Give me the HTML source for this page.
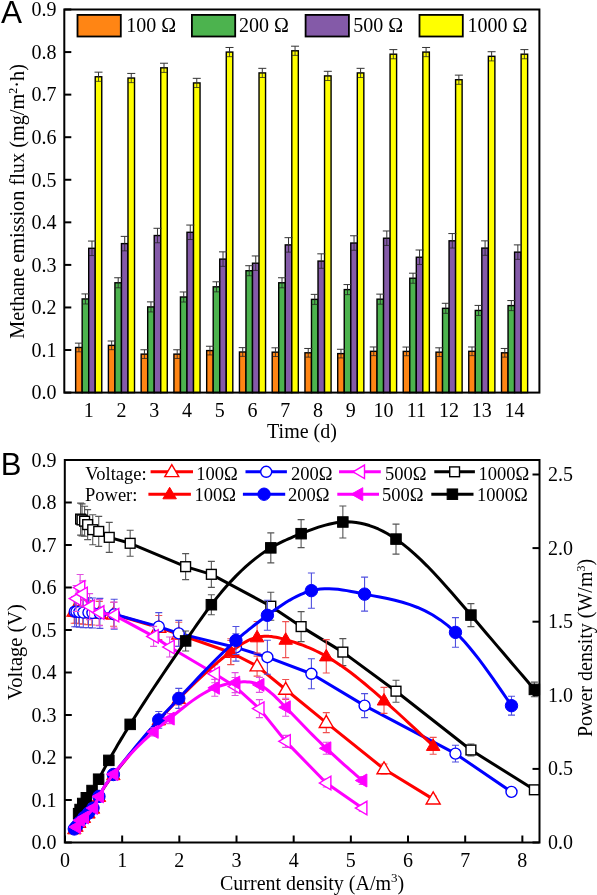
<!DOCTYPE html>
<html><head><meta charset="utf-8"><style>
html,body{margin:0;padding:0;background:#fff;width:597px;height:895px;overflow:hidden}
svg{display:block;will-change:transform}
</style></head><body>
<svg width="597" height="895" viewBox="0 0 597 895">
<rect width="597" height="895" fill="#fff"/>
<rect x="75.64" y="347.48" width="6.53" height="45.12" fill="#ff8514" stroke="#000" stroke-width="1.4"/>
<rect x="82.17" y="298.95" width="6.53" height="93.65" fill="#4cb34e" stroke="#000" stroke-width="1.4"/>
<rect x="88.70" y="248.30" width="6.53" height="144.30" fill="#845aa8" stroke="#000" stroke-width="1.4"/>
<rect x="95.23" y="76.76" width="6.53" height="315.84" fill="#ffff00" stroke="#000" stroke-width="1.4"/>
<path d="M78.91 347.48V343.14M74.91 343.14H82.91" stroke="#333" stroke-width="1" fill="none"/>
<path d="M78.91 347.48V351.82M75.91 351.82H81.91" stroke="#222" stroke-width="1" fill="none" opacity="0.75"/>
<path d="M85.44 298.95V293.93M81.44 293.93H89.44" stroke="#333" stroke-width="1" fill="none"/>
<path d="M85.44 298.95V303.98M82.44 303.98H88.44" stroke="#222" stroke-width="1" fill="none" opacity="0.75"/>
<path d="M91.97 248.30V241.06M87.97 241.06H95.97" stroke="#333" stroke-width="1" fill="none"/>
<path d="M91.97 248.30V255.54M88.97 255.54H94.97" stroke="#222" stroke-width="1" fill="none" opacity="0.75"/>
<path d="M98.50 76.76V72.16M94.50 72.16H102.50" stroke="#333" stroke-width="1" fill="none"/>
<path d="M98.50 76.76V81.35M95.50 81.35H101.50" stroke="#222" stroke-width="1" fill="none" opacity="0.75"/>
<rect x="108.40" y="345.35" width="6.53" height="47.25" fill="#ff8514" stroke="#000" stroke-width="1.4"/>
<rect x="114.93" y="282.78" width="6.53" height="109.82" fill="#4cb34e" stroke="#000" stroke-width="1.4"/>
<rect x="121.46" y="243.62" width="6.53" height="148.98" fill="#845aa8" stroke="#000" stroke-width="1.4"/>
<rect x="127.99" y="78.03" width="6.53" height="314.57" fill="#ffff00" stroke="#000" stroke-width="1.4"/>
<path d="M111.67 345.35V341.01M107.67 341.01H115.67" stroke="#333" stroke-width="1" fill="none"/>
<path d="M111.67 345.35V349.69M108.67 349.69H114.67" stroke="#222" stroke-width="1" fill="none" opacity="0.75"/>
<path d="M118.20 282.78V277.75M114.20 277.75H122.20" stroke="#333" stroke-width="1" fill="none"/>
<path d="M118.20 282.78V287.80M115.20 287.80H121.20" stroke="#222" stroke-width="1" fill="none" opacity="0.75"/>
<path d="M124.73 243.62V236.38M120.73 236.38H128.73" stroke="#333" stroke-width="1" fill="none"/>
<path d="M124.73 243.62V250.85M121.73 250.85H127.73" stroke="#222" stroke-width="1" fill="none" opacity="0.75"/>
<path d="M131.25 78.03V73.43M127.25 73.43H135.25" stroke="#333" stroke-width="1" fill="none"/>
<path d="M131.25 78.03V82.63M128.25 82.63H134.25" stroke="#222" stroke-width="1" fill="none" opacity="0.75"/>
<rect x="141.16" y="354.12" width="6.53" height="38.48" fill="#ff8514" stroke="#000" stroke-width="1.4"/>
<rect x="147.69" y="306.91" width="6.53" height="85.69" fill="#4cb34e" stroke="#000" stroke-width="1.4"/>
<rect x="154.22" y="235.53" width="6.53" height="157.07" fill="#845aa8" stroke="#000" stroke-width="1.4"/>
<rect x="160.75" y="67.82" width="6.53" height="324.78" fill="#ffff00" stroke="#000" stroke-width="1.4"/>
<path d="M144.43 354.12V349.78M140.43 349.78H148.43" stroke="#333" stroke-width="1" fill="none"/>
<path d="M144.43 354.12V358.46M141.43 358.46H147.43" stroke="#222" stroke-width="1" fill="none" opacity="0.75"/>
<path d="M150.96 306.91V301.89M146.96 301.89H154.96" stroke="#333" stroke-width="1" fill="none"/>
<path d="M150.96 306.91V311.94M147.96 311.94H153.96" stroke="#222" stroke-width="1" fill="none" opacity="0.75"/>
<path d="M157.48 235.53V228.29M153.48 228.29H161.48" stroke="#333" stroke-width="1" fill="none"/>
<path d="M157.48 235.53V242.77M154.48 242.77H160.48" stroke="#222" stroke-width="1" fill="none" opacity="0.75"/>
<path d="M164.01 67.82V63.22M160.01 63.22H168.01" stroke="#333" stroke-width="1" fill="none"/>
<path d="M164.01 67.82V72.41M161.01 72.41H167.01" stroke="#222" stroke-width="1" fill="none" opacity="0.75"/>
<rect x="173.92" y="354.12" width="6.53" height="38.48" fill="#ff8514" stroke="#000" stroke-width="1.4"/>
<rect x="180.45" y="297.00" width="6.53" height="95.60" fill="#4cb34e" stroke="#000" stroke-width="1.4"/>
<rect x="186.98" y="232.29" width="6.53" height="160.31" fill="#845aa8" stroke="#000" stroke-width="1.4"/>
<rect x="193.51" y="82.93" width="6.53" height="309.67" fill="#ffff00" stroke="#000" stroke-width="1.4"/>
<path d="M177.19 354.12V349.78M173.19 349.78H181.19" stroke="#333" stroke-width="1" fill="none"/>
<path d="M177.19 354.12V358.46M174.19 358.46H180.19" stroke="#222" stroke-width="1" fill="none" opacity="0.75"/>
<path d="M183.72 297.00V291.97M179.72 291.97H187.72" stroke="#333" stroke-width="1" fill="none"/>
<path d="M183.72 297.00V302.02M180.72 302.02H186.72" stroke="#222" stroke-width="1" fill="none" opacity="0.75"/>
<path d="M190.25 232.29V225.06M186.25 225.06H194.25" stroke="#333" stroke-width="1" fill="none"/>
<path d="M190.25 232.29V239.53M187.25 239.53H193.25" stroke="#222" stroke-width="1" fill="none" opacity="0.75"/>
<path d="M196.78 82.93V78.33M192.78 78.33H200.78" stroke="#333" stroke-width="1" fill="none"/>
<path d="M196.78 82.93V87.53M193.78 87.53H199.78" stroke="#222" stroke-width="1" fill="none" opacity="0.75"/>
<rect x="206.68" y="350.59" width="6.53" height="42.01" fill="#ff8514" stroke="#000" stroke-width="1.4"/>
<rect x="213.21" y="286.82" width="6.53" height="105.78" fill="#4cb34e" stroke="#000" stroke-width="1.4"/>
<rect x="219.74" y="259.11" width="6.53" height="133.49" fill="#845aa8" stroke="#000" stroke-width="1.4"/>
<rect x="226.27" y="52.07" width="6.53" height="340.53" fill="#ffff00" stroke="#000" stroke-width="1.4"/>
<path d="M209.95 350.59V346.24M205.95 346.24H213.95" stroke="#333" stroke-width="1" fill="none"/>
<path d="M209.95 350.59V354.93M206.95 354.93H212.95" stroke="#222" stroke-width="1" fill="none" opacity="0.75"/>
<path d="M216.48 286.82V281.80M212.48 281.80H220.48" stroke="#333" stroke-width="1" fill="none"/>
<path d="M216.48 286.82V291.85M213.48 291.85H219.48" stroke="#222" stroke-width="1" fill="none" opacity="0.75"/>
<path d="M223.00 259.11V251.87M219.00 251.87H227.00" stroke="#333" stroke-width="1" fill="none"/>
<path d="M223.00 259.11V266.35M220.00 266.35H226.00" stroke="#222" stroke-width="1" fill="none" opacity="0.75"/>
<path d="M229.53 52.07V47.47M225.53 47.47H233.53" stroke="#333" stroke-width="1" fill="none"/>
<path d="M229.53 52.07V56.66M226.53 56.66H232.53" stroke="#222" stroke-width="1" fill="none" opacity="0.75"/>
<rect x="239.44" y="351.99" width="6.53" height="40.61" fill="#ff8514" stroke="#000" stroke-width="1.4"/>
<rect x="245.97" y="270.73" width="6.53" height="121.87" fill="#4cb34e" stroke="#000" stroke-width="1.4"/>
<rect x="252.50" y="263.20" width="6.53" height="129.40" fill="#845aa8" stroke="#000" stroke-width="1.4"/>
<rect x="259.03" y="72.92" width="6.53" height="319.68" fill="#ffff00" stroke="#000" stroke-width="1.4"/>
<path d="M242.71 351.99V347.65M238.71 347.65H246.71" stroke="#333" stroke-width="1" fill="none"/>
<path d="M242.71 351.99V356.33M239.71 356.33H245.71" stroke="#222" stroke-width="1" fill="none" opacity="0.75"/>
<path d="M249.24 270.73V265.71M245.24 265.71H253.24" stroke="#333" stroke-width="1" fill="none"/>
<path d="M249.24 270.73V275.75M246.24 275.75H252.24" stroke="#222" stroke-width="1" fill="none" opacity="0.75"/>
<path d="M255.76 263.20V255.96M251.76 255.96H259.76" stroke="#333" stroke-width="1" fill="none"/>
<path d="M255.76 263.20V270.43M252.76 270.43H258.76" stroke="#222" stroke-width="1" fill="none" opacity="0.75"/>
<path d="M262.30 72.92V68.33M258.30 68.33H266.30" stroke="#333" stroke-width="1" fill="none"/>
<path d="M262.30 72.92V77.52M259.30 77.52H265.30" stroke="#222" stroke-width="1" fill="none" opacity="0.75"/>
<rect x="272.20" y="352.16" width="6.53" height="40.44" fill="#ff8514" stroke="#000" stroke-width="1.4"/>
<rect x="278.73" y="282.78" width="6.53" height="109.82" fill="#4cb34e" stroke="#000" stroke-width="1.4"/>
<rect x="285.26" y="244.89" width="6.53" height="147.71" fill="#845aa8" stroke="#000" stroke-width="1.4"/>
<rect x="291.79" y="50.79" width="6.53" height="341.81" fill="#ffff00" stroke="#000" stroke-width="1.4"/>
<path d="M275.46 352.16V347.82M271.46 347.82H279.46" stroke="#333" stroke-width="1" fill="none"/>
<path d="M275.46 352.16V356.50M272.46 356.50H278.46" stroke="#222" stroke-width="1" fill="none" opacity="0.75"/>
<path d="M282.00 282.78V277.75M278.00 277.75H286.00" stroke="#333" stroke-width="1" fill="none"/>
<path d="M282.00 282.78V287.80M279.00 287.80H285.00" stroke="#222" stroke-width="1" fill="none" opacity="0.75"/>
<path d="M288.52 244.89V237.66M284.52 237.66H292.52" stroke="#333" stroke-width="1" fill="none"/>
<path d="M288.52 244.89V252.13M285.52 252.13H291.52" stroke="#222" stroke-width="1" fill="none" opacity="0.75"/>
<path d="M295.06 50.79V46.19M291.06 46.19H299.06" stroke="#333" stroke-width="1" fill="none"/>
<path d="M295.06 50.79V55.39M292.06 55.39H298.06" stroke="#222" stroke-width="1" fill="none" opacity="0.75"/>
<rect x="304.96" y="352.80" width="6.53" height="39.80" fill="#ff8514" stroke="#000" stroke-width="1.4"/>
<rect x="311.49" y="299.38" width="6.53" height="93.22" fill="#4cb34e" stroke="#000" stroke-width="1.4"/>
<rect x="318.02" y="261.07" width="6.53" height="131.53" fill="#845aa8" stroke="#000" stroke-width="1.4"/>
<rect x="324.55" y="75.90" width="6.53" height="316.70" fill="#ffff00" stroke="#000" stroke-width="1.4"/>
<path d="M308.22 352.80V348.46M304.22 348.46H312.22" stroke="#333" stroke-width="1" fill="none"/>
<path d="M308.22 352.80V357.14M305.22 357.14H311.22" stroke="#222" stroke-width="1" fill="none" opacity="0.75"/>
<path d="M314.75 299.38V294.36M310.75 294.36H318.75" stroke="#333" stroke-width="1" fill="none"/>
<path d="M314.75 299.38V304.40M311.75 304.40H317.75" stroke="#222" stroke-width="1" fill="none" opacity="0.75"/>
<path d="M321.28 261.07V253.83M317.28 253.83H325.28" stroke="#333" stroke-width="1" fill="none"/>
<path d="M321.28 261.07V268.31M318.28 268.31H324.28" stroke="#222" stroke-width="1" fill="none" opacity="0.75"/>
<path d="M327.81 75.90V71.31M323.81 71.31H331.81" stroke="#333" stroke-width="1" fill="none"/>
<path d="M327.81 75.90V80.50M324.81 80.50H330.81" stroke="#222" stroke-width="1" fill="none" opacity="0.75"/>
<rect x="337.72" y="353.61" width="6.53" height="38.99" fill="#ff8514" stroke="#000" stroke-width="1.4"/>
<rect x="344.25" y="289.59" width="6.53" height="103.01" fill="#4cb34e" stroke="#000" stroke-width="1.4"/>
<rect x="350.78" y="243.02" width="6.53" height="149.58" fill="#845aa8" stroke="#000" stroke-width="1.4"/>
<rect x="357.31" y="72.92" width="6.53" height="319.68" fill="#ffff00" stroke="#000" stroke-width="1.4"/>
<path d="M340.98 353.61V349.27M336.98 349.27H344.98" stroke="#333" stroke-width="1" fill="none"/>
<path d="M340.98 353.61V357.95M337.98 357.95H343.98" stroke="#222" stroke-width="1" fill="none" opacity="0.75"/>
<path d="M347.51 289.59V284.57M343.51 284.57H351.51" stroke="#333" stroke-width="1" fill="none"/>
<path d="M347.51 289.59V294.61M344.51 294.61H350.51" stroke="#222" stroke-width="1" fill="none" opacity="0.75"/>
<path d="M354.04 243.02V235.78M350.04 235.78H358.04" stroke="#333" stroke-width="1" fill="none"/>
<path d="M354.04 243.02V250.26M351.04 250.26H357.04" stroke="#222" stroke-width="1" fill="none" opacity="0.75"/>
<path d="M360.57 72.92V68.33M356.57 68.33H364.57" stroke="#333" stroke-width="1" fill="none"/>
<path d="M360.57 72.92V77.52M357.57 77.52H363.57" stroke="#222" stroke-width="1" fill="none" opacity="0.75"/>
<rect x="370.48" y="351.31" width="6.53" height="41.29" fill="#ff8514" stroke="#000" stroke-width="1.4"/>
<rect x="377.01" y="299.17" width="6.53" height="93.43" fill="#4cb34e" stroke="#000" stroke-width="1.4"/>
<rect x="383.54" y="238.21" width="6.53" height="154.39" fill="#845aa8" stroke="#000" stroke-width="1.4"/>
<rect x="390.07" y="54.19" width="6.53" height="338.41" fill="#ffff00" stroke="#000" stroke-width="1.4"/>
<path d="M373.74 351.31V346.97M369.74 346.97H377.74" stroke="#333" stroke-width="1" fill="none"/>
<path d="M373.74 351.31V355.65M370.74 355.65H376.74" stroke="#222" stroke-width="1" fill="none" opacity="0.75"/>
<path d="M380.27 299.17V294.14M376.27 294.14H384.27" stroke="#333" stroke-width="1" fill="none"/>
<path d="M380.27 299.17V304.19M377.27 304.19H383.27" stroke="#222" stroke-width="1" fill="none" opacity="0.75"/>
<path d="M386.80 238.21V230.97M382.80 230.97H390.80" stroke="#333" stroke-width="1" fill="none"/>
<path d="M386.80 238.21V245.45M383.80 245.45H389.80" stroke="#222" stroke-width="1" fill="none" opacity="0.75"/>
<path d="M393.33 54.19V49.60M389.33 49.60H397.33" stroke="#333" stroke-width="1" fill="none"/>
<path d="M393.33 54.19V58.79M390.33 58.79H396.33" stroke="#222" stroke-width="1" fill="none" opacity="0.75"/>
<rect x="403.24" y="351.40" width="6.53" height="41.20" fill="#ff8514" stroke="#000" stroke-width="1.4"/>
<rect x="409.77" y="278.22" width="6.53" height="114.38" fill="#4cb34e" stroke="#000" stroke-width="1.4"/>
<rect x="416.30" y="257.24" width="6.53" height="135.36" fill="#845aa8" stroke="#000" stroke-width="1.4"/>
<rect x="422.83" y="52.07" width="6.53" height="340.53" fill="#ffff00" stroke="#000" stroke-width="1.4"/>
<path d="M406.50 351.40V347.05M402.50 347.05H410.50" stroke="#333" stroke-width="1" fill="none"/>
<path d="M406.50 351.40V355.74M403.50 355.74H409.50" stroke="#222" stroke-width="1" fill="none" opacity="0.75"/>
<path d="M413.03 278.22V273.20M409.03 273.20H417.03" stroke="#333" stroke-width="1" fill="none"/>
<path d="M413.03 278.22V283.25M410.03 283.25H416.03" stroke="#222" stroke-width="1" fill="none" opacity="0.75"/>
<path d="M419.56 257.24V250.00M415.56 250.00H423.56" stroke="#333" stroke-width="1" fill="none"/>
<path d="M419.56 257.24V264.47M416.56 264.47H422.56" stroke="#222" stroke-width="1" fill="none" opacity="0.75"/>
<path d="M426.09 52.07V47.47M422.09 47.47H430.09" stroke="#333" stroke-width="1" fill="none"/>
<path d="M426.09 52.07V56.66M423.09 56.66H429.09" stroke="#222" stroke-width="1" fill="none" opacity="0.75"/>
<rect x="436.00" y="352.16" width="6.53" height="40.44" fill="#ff8514" stroke="#000" stroke-width="1.4"/>
<rect x="442.53" y="308.32" width="6.53" height="84.28" fill="#4cb34e" stroke="#000" stroke-width="1.4"/>
<rect x="449.06" y="240.81" width="6.53" height="151.79" fill="#845aa8" stroke="#000" stroke-width="1.4"/>
<rect x="455.59" y="79.74" width="6.53" height="312.87" fill="#ffff00" stroke="#000" stroke-width="1.4"/>
<path d="M439.26 352.16V347.82M435.26 347.82H443.26" stroke="#333" stroke-width="1" fill="none"/>
<path d="M439.26 352.16V356.50M436.26 356.50H442.26" stroke="#222" stroke-width="1" fill="none" opacity="0.75"/>
<path d="M445.79 308.32V303.29M441.79 303.29H449.79" stroke="#333" stroke-width="1" fill="none"/>
<path d="M445.79 308.32V313.34M442.79 313.34H448.79" stroke="#222" stroke-width="1" fill="none" opacity="0.75"/>
<path d="M452.32 240.81V233.57M448.32 233.57H456.32" stroke="#333" stroke-width="1" fill="none"/>
<path d="M452.32 240.81V248.04M449.32 248.04H455.32" stroke="#222" stroke-width="1" fill="none" opacity="0.75"/>
<path d="M458.85 79.74V75.14M454.85 75.14H462.85" stroke="#333" stroke-width="1" fill="none"/>
<path d="M458.85 79.74V84.33M455.85 84.33H461.85" stroke="#222" stroke-width="1" fill="none" opacity="0.75"/>
<rect x="468.76" y="351.31" width="6.53" height="41.29" fill="#ff8514" stroke="#000" stroke-width="1.4"/>
<rect x="475.29" y="310.45" width="6.53" height="82.15" fill="#4cb34e" stroke="#000" stroke-width="1.4"/>
<rect x="481.82" y="248.09" width="6.53" height="144.51" fill="#845aa8" stroke="#000" stroke-width="1.4"/>
<rect x="488.35" y="56.32" width="6.53" height="336.28" fill="#ffff00" stroke="#000" stroke-width="1.4"/>
<path d="M472.02 351.31V346.97M468.02 346.97H476.02" stroke="#333" stroke-width="1" fill="none"/>
<path d="M472.02 351.31V355.65M469.02 355.65H475.02" stroke="#222" stroke-width="1" fill="none" opacity="0.75"/>
<path d="M478.56 310.45V305.42M474.56 305.42H482.56" stroke="#333" stroke-width="1" fill="none"/>
<path d="M478.56 310.45V315.47M475.56 315.47H481.56" stroke="#222" stroke-width="1" fill="none" opacity="0.75"/>
<path d="M485.08 248.09V240.85M481.08 240.85H489.08" stroke="#333" stroke-width="1" fill="none"/>
<path d="M485.08 248.09V255.32M482.08 255.32H488.08" stroke="#222" stroke-width="1" fill="none" opacity="0.75"/>
<path d="M491.62 56.32V51.73M487.62 51.73H495.62" stroke="#333" stroke-width="1" fill="none"/>
<path d="M491.62 56.32V60.92M488.62 60.92H494.62" stroke="#222" stroke-width="1" fill="none" opacity="0.75"/>
<rect x="501.52" y="352.80" width="6.53" height="39.80" fill="#ff8514" stroke="#000" stroke-width="1.4"/>
<rect x="508.05" y="305.59" width="6.53" height="87.01" fill="#4cb34e" stroke="#000" stroke-width="1.4"/>
<rect x="514.58" y="252.13" width="6.53" height="140.47" fill="#845aa8" stroke="#000" stroke-width="1.4"/>
<rect x="521.11" y="54.19" width="6.53" height="338.41" fill="#ffff00" stroke="#000" stroke-width="1.4"/>
<path d="M504.79 352.80V348.46M500.79 348.46H508.79" stroke="#333" stroke-width="1" fill="none"/>
<path d="M504.79 352.80V357.14M501.79 357.14H507.79" stroke="#222" stroke-width="1" fill="none" opacity="0.75"/>
<path d="M511.32 305.59V300.57M507.32 300.57H515.32" stroke="#333" stroke-width="1" fill="none"/>
<path d="M511.32 305.59V310.62M508.32 310.62H514.32" stroke="#222" stroke-width="1" fill="none" opacity="0.75"/>
<path d="M517.85 252.13V244.89M513.85 244.89H521.85" stroke="#333" stroke-width="1" fill="none"/>
<path d="M517.85 252.13V259.37M514.85 259.37H520.85" stroke="#222" stroke-width="1" fill="none" opacity="0.75"/>
<path d="M524.38 54.19V49.60M520.38 49.60H528.38" stroke="#333" stroke-width="1" fill="none"/>
<path d="M524.38 54.19V58.79M521.38 58.79H527.38" stroke="#222" stroke-width="1" fill="none" opacity="0.75"/>
<rect x="64.3" y="9.5" width="475.09999999999997" height="383.1" fill="none" stroke="#000" stroke-width="2"/>
<path d="M64.3 392.60H71.3" stroke="#000" stroke-width="2"/>
<text x="56.4" y="399.40" text-anchor="end" font-size="20" font-family="Liberation Serif, serif">0.0</text>
<path d="M64.3 350.03H71.3" stroke="#000" stroke-width="2"/>
<text x="56.4" y="356.83" text-anchor="end" font-size="20" font-family="Liberation Serif, serif">0.1</text>
<path d="M64.3 307.47H71.3" stroke="#000" stroke-width="2"/>
<text x="56.4" y="314.27" text-anchor="end" font-size="20" font-family="Liberation Serif, serif">0.2</text>
<path d="M64.3 264.90H71.3" stroke="#000" stroke-width="2"/>
<text x="56.4" y="271.70" text-anchor="end" font-size="20" font-family="Liberation Serif, serif">0.3</text>
<path d="M64.3 222.33H71.3" stroke="#000" stroke-width="2"/>
<text x="56.4" y="229.13" text-anchor="end" font-size="20" font-family="Liberation Serif, serif">0.4</text>
<path d="M64.3 179.77H71.3" stroke="#000" stroke-width="2"/>
<text x="56.4" y="186.57" text-anchor="end" font-size="20" font-family="Liberation Serif, serif">0.5</text>
<path d="M64.3 137.20H71.3" stroke="#000" stroke-width="2"/>
<text x="56.4" y="144.00" text-anchor="end" font-size="20" font-family="Liberation Serif, serif">0.6</text>
<path d="M64.3 94.63H71.3" stroke="#000" stroke-width="2"/>
<text x="56.4" y="101.43" text-anchor="end" font-size="20" font-family="Liberation Serif, serif">0.7</text>
<path d="M64.3 52.07H71.3" stroke="#000" stroke-width="2"/>
<text x="56.4" y="58.87" text-anchor="end" font-size="20" font-family="Liberation Serif, serif">0.8</text>
<path d="M64.3 9.50H71.3" stroke="#000" stroke-width="2"/>
<text x="56.4" y="16.30" text-anchor="end" font-size="20" font-family="Liberation Serif, serif">0.9</text>
<text x="88.70" y="416.5" text-anchor="middle" font-size="20" font-family="Liberation Serif, serif">1</text>
<text x="121.46" y="416.5" text-anchor="middle" font-size="20" font-family="Liberation Serif, serif">2</text>
<text x="154.22" y="416.5" text-anchor="middle" font-size="20" font-family="Liberation Serif, serif">3</text>
<text x="186.98" y="416.5" text-anchor="middle" font-size="20" font-family="Liberation Serif, serif">4</text>
<text x="219.74" y="416.5" text-anchor="middle" font-size="20" font-family="Liberation Serif, serif">5</text>
<text x="252.50" y="416.5" text-anchor="middle" font-size="20" font-family="Liberation Serif, serif">6</text>
<text x="285.26" y="416.5" text-anchor="middle" font-size="20" font-family="Liberation Serif, serif">7</text>
<text x="318.02" y="416.5" text-anchor="middle" font-size="20" font-family="Liberation Serif, serif">8</text>
<text x="350.78" y="416.5" text-anchor="middle" font-size="20" font-family="Liberation Serif, serif">9</text>
<text x="383.54" y="416.5" text-anchor="middle" font-size="20" font-family="Liberation Serif, serif">10</text>
<text x="416.30" y="416.5" text-anchor="middle" font-size="20" font-family="Liberation Serif, serif">11</text>
<text x="449.06" y="416.5" text-anchor="middle" font-size="20" font-family="Liberation Serif, serif">12</text>
<text x="481.82" y="416.5" text-anchor="middle" font-size="20" font-family="Liberation Serif, serif">13</text>
<text x="514.58" y="416.5" text-anchor="middle" font-size="20" font-family="Liberation Serif, serif">14</text>
<text x="302" y="437.8" text-anchor="middle" font-size="20" font-family="Liberation Serif, serif">Time (d)</text>
<text transform="translate(23.9,201.4) rotate(-90)" text-anchor="middle" font-size="20.3" font-family="Liberation Serif, serif">Methane emission flux  (mg/m<tspan font-size="12" dy="-7">2</tspan><tspan dy="7">·h)</tspan></text>
<rect x="77.5" y="14.9" width="43.3" height="21.6" fill="#ff8514" stroke="#000" stroke-width="1.8"/>
<text x="126.3" y="32.2" font-size="20" font-family="Liberation Serif, serif">100 Ω</text>
<rect x="191.9" y="14.9" width="43.3" height="21.6" fill="#4cb34e" stroke="#000" stroke-width="1.8"/>
<text x="238.9" y="32.2" font-size="20" font-family="Liberation Serif, serif">200 Ω</text>
<rect x="305.59999999999997" y="14.9" width="43.3" height="21.6" fill="#845aa8" stroke="#000" stroke-width="1.8"/>
<text x="353.3" y="32.2" font-size="20" font-family="Liberation Serif, serif">500 Ω</text>
<rect x="419.5" y="14.9" width="43.3" height="21.6" fill="#ffff00" stroke="#000" stroke-width="1.8"/>
<text x="467.5" y="32.2" font-size="20" font-family="Liberation Serif, serif">1000 Ω</text>
<text x="1" y="22.6" font-size="31.5" font-family="Liberation Sans, sans-serif">A</text>
<text x="0.8" y="475" font-size="31" font-family="Liberation Sans, sans-serif">B</text>
<path d="M74.15 611.30 L75.86 611.30 L78.72 611.73 L82.72 612.15 L87.87 612.58 L91.87 613.00 L99.30 613.42 L113.59 614.27 L158.76 627.45 L178.77 634.25 L230.79 652.52 L257.09 666.12 L285.68 689.50 L326.27 722.65 L384.01 768.98 L433.17 799.15" fill="none" stroke="#ff0000" stroke-width="3" stroke-linejoin="round"/>
<path d="M74.15 599.30V623.30M70.65 599.30H77.65M70.65 623.30H77.65" stroke="#f05050" stroke-width="1.1" fill="none"/>
<path d="M75.86 599.30V623.30M72.36 599.30H79.36M72.36 623.30H79.36" stroke="#f05050" stroke-width="1.1" fill="none"/>
<path d="M78.72 599.73V623.73M75.22 599.73H82.22M75.22 623.73H82.22" stroke="#f05050" stroke-width="1.1" fill="none"/>
<path d="M82.72 600.15V624.15M79.22 600.15H86.22M79.22 624.15H86.22" stroke="#f05050" stroke-width="1.1" fill="none"/>
<path d="M87.87 600.58V624.58M84.37 600.58H91.37M84.37 624.58H91.37" stroke="#f05050" stroke-width="1.1" fill="none"/>
<path d="M91.87 601.00V625.00M88.37 601.00H95.37M88.37 625.00H95.37" stroke="#f05050" stroke-width="1.1" fill="none"/>
<path d="M99.30 601.42V625.42M95.80 601.42H102.80M95.80 625.42H102.80" stroke="#f05050" stroke-width="1.1" fill="none"/>
<path d="M113.59 602.27V626.27M110.09 602.27H117.09M110.09 626.27H117.09" stroke="#f05050" stroke-width="1.1" fill="none"/>
<path d="M158.76 615.45V639.45M155.26 615.45H162.26M155.26 639.45H162.26" stroke="#f05050" stroke-width="1.1" fill="none"/>
<path d="M178.77 622.25V646.25M175.27 622.25H182.27M175.27 646.25H182.27" stroke="#f05050" stroke-width="1.1" fill="none"/>
<path d="M230.79 640.52V664.52M227.29 640.52H234.29M227.29 664.52H234.29" stroke="#f05050" stroke-width="1.1" fill="none"/>
<path d="M257.09 656.12V676.12M253.59 656.12H260.59M253.59 676.12H260.59" stroke="#f05050" stroke-width="1.1" fill="none"/>
<path d="M285.68 679.50V699.50M282.18 679.50H289.18M282.18 699.50H289.18" stroke="#f05050" stroke-width="1.1" fill="none"/>
<path d="M326.27 712.65V732.65M322.77 712.65H329.77M322.77 732.65H329.77" stroke="#f05050" stroke-width="1.1" fill="none"/>
<path d="M384.01 763.98V773.98M380.51 763.98H387.51M380.51 773.98H387.51" stroke="#f05050" stroke-width="1.1" fill="none"/>
<path d="M433.17 796.15V802.15M429.67 796.15H436.67M429.67 802.15H436.67" stroke="#f05050" stroke-width="1.1" fill="none"/>
<path d="M74.15 604.10L81.15 616.10L67.15 616.10Z" fill="#fff" stroke="#ff0000" stroke-width="1.4" stroke-linejoin="miter"/>
<path d="M75.86 604.10L82.86 616.10L68.86 616.10Z" fill="#fff" stroke="#ff0000" stroke-width="1.4" stroke-linejoin="miter"/>
<path d="M78.72 604.52L85.72 616.52L71.72 616.52Z" fill="#fff" stroke="#ff0000" stroke-width="1.4" stroke-linejoin="miter"/>
<path d="M82.72 604.95L89.72 616.95L75.72 616.95Z" fill="#fff" stroke="#ff0000" stroke-width="1.4" stroke-linejoin="miter"/>
<path d="M87.87 605.38L94.87 617.38L80.87 617.38Z" fill="#fff" stroke="#ff0000" stroke-width="1.4" stroke-linejoin="miter"/>
<path d="M91.87 605.80L98.87 617.80L84.87 617.80Z" fill="#fff" stroke="#ff0000" stroke-width="1.4" stroke-linejoin="miter"/>
<path d="M99.30 606.22L106.30 618.22L92.30 618.22Z" fill="#fff" stroke="#ff0000" stroke-width="1.4" stroke-linejoin="miter"/>
<path d="M113.59 607.07L120.59 619.07L106.59 619.07Z" fill="#fff" stroke="#ff0000" stroke-width="1.4" stroke-linejoin="miter"/>
<path d="M158.76 620.25L165.76 632.25L151.76 632.25Z" fill="#fff" stroke="#ff0000" stroke-width="1.4" stroke-linejoin="miter"/>
<path d="M178.77 627.05L185.77 639.05L171.77 639.05Z" fill="#fff" stroke="#ff0000" stroke-width="1.4" stroke-linejoin="miter"/>
<path d="M230.79 645.32L237.79 657.32L223.79 657.32Z" fill="#fff" stroke="#ff0000" stroke-width="1.4" stroke-linejoin="miter"/>
<path d="M257.09 658.92L264.09 670.92L250.09 670.92Z" fill="#fff" stroke="#ff0000" stroke-width="1.4" stroke-linejoin="miter"/>
<path d="M285.68 682.30L292.68 694.30L278.68 694.30Z" fill="#fff" stroke="#ff0000" stroke-width="1.4" stroke-linejoin="miter"/>
<path d="M326.27 715.45L333.27 727.45L319.27 727.45Z" fill="#fff" stroke="#ff0000" stroke-width="1.4" stroke-linejoin="miter"/>
<path d="M384.01 761.77L391.01 773.77L377.01 773.77Z" fill="#fff" stroke="#ff0000" stroke-width="1.4" stroke-linejoin="miter"/>
<path d="M433.17 791.95L440.17 803.95L426.17 803.95Z" fill="#fff" stroke="#ff0000" stroke-width="1.4" stroke-linejoin="miter"/>
<path d="M74.72 611.73 L76.43 611.73 L79.29 612.15 L83.29 612.58 L88.44 612.58 L92.44 613.00 L99.87 613.42 L114.17 614.27 L158.76 626.60 L178.77 633.40 L235.94 647.42 L267.38 657.20 L311.40 673.77 L364.57 705.65 L455.47 753.67 L511.50 791.92" fill="none" stroke="#0000ff" stroke-width="3" stroke-linejoin="round"/>
<path d="M74.72 596.73V626.73M71.22 596.73H78.22M71.22 626.73H78.22" stroke="#5050e0" stroke-width="1.1" fill="none"/>
<path d="M76.43 596.73V626.73M72.93 596.73H79.93M72.93 626.73H79.93" stroke="#5050e0" stroke-width="1.1" fill="none"/>
<path d="M79.29 597.15V627.15M75.79 597.15H82.79M75.79 627.15H82.79" stroke="#5050e0" stroke-width="1.1" fill="none"/>
<path d="M83.29 597.58V627.58M79.79 597.58H86.79M79.79 627.58H86.79" stroke="#5050e0" stroke-width="1.1" fill="none"/>
<path d="M88.44 597.58V627.58M84.94 597.58H91.94M84.94 627.58H91.94" stroke="#5050e0" stroke-width="1.1" fill="none"/>
<path d="M92.44 598.00V628.00M88.94 598.00H95.94M88.94 628.00H95.94" stroke="#5050e0" stroke-width="1.1" fill="none"/>
<path d="M99.87 598.42V628.42M96.37 598.42H103.37M96.37 628.42H103.37" stroke="#5050e0" stroke-width="1.1" fill="none"/>
<path d="M114.17 599.27V629.27M110.67 599.27H117.67M110.67 629.27H117.67" stroke="#5050e0" stroke-width="1.1" fill="none"/>
<path d="M158.76 612.60V640.60M155.26 612.60H162.26M155.26 640.60H162.26" stroke="#5050e0" stroke-width="1.1" fill="none"/>
<path d="M178.77 620.40V646.40M175.27 620.40H182.27M175.27 646.40H182.27" stroke="#5050e0" stroke-width="1.1" fill="none"/>
<path d="M235.94 633.72V661.12M232.44 633.72H239.44M232.44 661.12H239.44" stroke="#5050e0" stroke-width="1.1" fill="none"/>
<path d="M267.38 640.20V674.20M263.88 640.20H270.88M263.88 674.20H270.88" stroke="#5050e0" stroke-width="1.1" fill="none"/>
<path d="M311.40 658.77V688.77M307.90 658.77H314.90M307.90 688.77H314.90" stroke="#5050e0" stroke-width="1.1" fill="none"/>
<path d="M364.57 693.65V717.65M361.07 693.65H368.07M361.07 717.65H368.07" stroke="#5050e0" stroke-width="1.1" fill="none"/>
<path d="M455.47 745.27V762.07M451.97 745.27H458.97M451.97 762.07H458.97" stroke="#5050e0" stroke-width="1.1" fill="none"/>
<path d="M511.50 787.92V795.92M508.00 787.92H515.00M508.00 795.92H515.00" stroke="#5050e0" stroke-width="1.1" fill="none"/>
<circle cx="74.72" cy="611.73" r="5.5" fill="#fff" stroke="#0000ff" stroke-width="1.4"/>
<circle cx="76.43" cy="611.73" r="5.5" fill="#fff" stroke="#0000ff" stroke-width="1.4"/>
<circle cx="79.29" cy="612.15" r="5.5" fill="#fff" stroke="#0000ff" stroke-width="1.4"/>
<circle cx="83.29" cy="612.58" r="5.5" fill="#fff" stroke="#0000ff" stroke-width="1.4"/>
<circle cx="88.44" cy="612.58" r="5.5" fill="#fff" stroke="#0000ff" stroke-width="1.4"/>
<circle cx="92.44" cy="613.00" r="5.5" fill="#fff" stroke="#0000ff" stroke-width="1.4"/>
<circle cx="99.87" cy="613.42" r="5.5" fill="#fff" stroke="#0000ff" stroke-width="1.4"/>
<circle cx="114.17" cy="614.27" r="5.5" fill="#fff" stroke="#0000ff" stroke-width="1.4"/>
<circle cx="158.76" cy="626.60" r="5.5" fill="#fff" stroke="#0000ff" stroke-width="1.4"/>
<circle cx="178.77" cy="633.40" r="5.5" fill="#fff" stroke="#0000ff" stroke-width="1.4"/>
<circle cx="235.94" cy="647.42" r="5.5" fill="#fff" stroke="#0000ff" stroke-width="1.4"/>
<circle cx="267.38" cy="657.20" r="5.5" fill="#fff" stroke="#0000ff" stroke-width="1.4"/>
<circle cx="311.40" cy="673.77" r="5.5" fill="#fff" stroke="#0000ff" stroke-width="1.4"/>
<circle cx="364.57" cy="705.65" r="5.5" fill="#fff" stroke="#0000ff" stroke-width="1.4"/>
<circle cx="455.47" cy="753.67" r="5.5" fill="#fff" stroke="#0000ff" stroke-width="1.4"/>
<circle cx="511.50" cy="791.92" r="5.5" fill="#fff" stroke="#0000ff" stroke-width="1.4"/>
<path d="M76.09 598.55 L80.15 587.50 L82.72 593.88 L89.58 606.62 L99.30 612.58 L114.17 615.12 L153.61 636.38 L169.62 647.00 L214.79 673.77 L235.08 686.52 L259.38 708.62 L285.68 741.35 L326.27 783.00 L362.28 808.08" fill="none" stroke="#ff00ff" stroke-width="3" stroke-linejoin="round"/>
<path d="M76.09 585.55V611.55M72.59 585.55H79.59M72.59 611.55H79.59" stroke="#e050e0" stroke-width="1.1" fill="none"/>
<path d="M80.15 574.50V600.50M76.65 574.50H83.65M76.65 600.50H83.65" stroke="#e050e0" stroke-width="1.1" fill="none"/>
<path d="M82.72 580.88V606.88M79.22 580.88H86.22M79.22 606.88H86.22" stroke="#e050e0" stroke-width="1.1" fill="none"/>
<path d="M89.58 593.62V619.62M86.08 593.62H93.08M86.08 619.62H93.08" stroke="#e050e0" stroke-width="1.1" fill="none"/>
<path d="M99.30 599.58V625.58M95.80 599.58H102.80M95.80 625.58H102.80" stroke="#e050e0" stroke-width="1.1" fill="none"/>
<path d="M114.17 602.12V628.12M110.67 602.12H117.67M110.67 628.12H117.67" stroke="#e050e0" stroke-width="1.1" fill="none"/>
<path d="M153.61 626.38V646.38M150.11 626.38H157.11M150.11 646.38H157.11" stroke="#e050e0" stroke-width="1.1" fill="none"/>
<path d="M169.62 637.00V657.00M166.12 637.00H173.12M166.12 657.00H173.12" stroke="#e050e0" stroke-width="1.1" fill="none"/>
<path d="M214.79 664.77V682.77M211.29 664.77H218.29M211.29 682.77H218.29" stroke="#e050e0" stroke-width="1.1" fill="none"/>
<path d="M235.08 677.52V695.52M231.58 677.52H238.58M231.58 695.52H238.58" stroke="#e050e0" stroke-width="1.1" fill="none"/>
<path d="M259.38 699.62V717.62M255.88 699.62H262.88M255.88 717.62H262.88" stroke="#e050e0" stroke-width="1.1" fill="none"/>
<path d="M285.68 735.35V747.35M282.18 735.35H289.18M282.18 747.35H289.18" stroke="#e050e0" stroke-width="1.1" fill="none"/>
<path d="M326.27 779.00V787.00M322.77 779.00H329.77M322.77 787.00H329.77" stroke="#e050e0" stroke-width="1.1" fill="none"/>
<path d="M362.28 805.08V811.08M358.78 805.08H365.78M358.78 811.08H365.78" stroke="#e050e0" stroke-width="1.1" fill="none"/>
<path d="M69.19 598.55L80.69 591.80L80.69 605.30Z" fill="#fff" stroke="#ff00ff" stroke-width="1.4"/>
<path d="M73.25 587.50L84.75 580.75L84.75 594.25Z" fill="#fff" stroke="#ff00ff" stroke-width="1.4"/>
<path d="M75.82 593.88L87.32 587.12L87.32 600.62Z" fill="#fff" stroke="#ff00ff" stroke-width="1.4"/>
<path d="M82.68 606.62L94.18 599.88L94.18 613.38Z" fill="#fff" stroke="#ff00ff" stroke-width="1.4"/>
<path d="M92.40 612.58L103.90 605.83L103.90 619.33Z" fill="#fff" stroke="#ff00ff" stroke-width="1.4"/>
<path d="M107.27 615.12L118.77 608.38L118.77 621.88Z" fill="#fff" stroke="#ff00ff" stroke-width="1.4"/>
<path d="M146.71 636.38L158.21 629.62L158.21 643.12Z" fill="#fff" stroke="#ff00ff" stroke-width="1.4"/>
<path d="M162.72 647.00L174.22 640.25L174.22 653.75Z" fill="#fff" stroke="#ff00ff" stroke-width="1.4"/>
<path d="M207.89 673.77L219.39 667.02L219.39 680.52Z" fill="#fff" stroke="#ff00ff" stroke-width="1.4"/>
<path d="M228.18 686.52L239.68 679.77L239.68 693.27Z" fill="#fff" stroke="#ff00ff" stroke-width="1.4"/>
<path d="M252.48 708.62L263.98 701.88L263.98 715.38Z" fill="#fff" stroke="#ff00ff" stroke-width="1.4"/>
<path d="M278.78 741.35L290.28 734.60L290.28 748.10Z" fill="#fff" stroke="#ff00ff" stroke-width="1.4"/>
<path d="M319.37 783.00L330.87 776.25L330.87 789.75Z" fill="#fff" stroke="#ff00ff" stroke-width="1.4"/>
<path d="M355.38 808.08L366.88 801.33L366.88 814.83Z" fill="#fff" stroke="#ff00ff" stroke-width="1.4"/>
<path d="M80.61 519.08 L82.04 519.92 L84.61 521.20 L87.64 524.60 L92.73 529.70 L98.73 531.40 L109.25 537.35 L130.17 543.30 L185.63 566.67 L211.36 574.33 L270.81 606.20 L301.11 626.60 L342.85 652.10 L396.01 691.20 L470.91 750.02 L534.37 789.80" fill="none" stroke="#000000" stroke-width="3" stroke-linejoin="round"/>
<path d="M80.61 503.08V535.08M77.11 503.08H84.11M77.11 535.08H84.11" stroke="#555555" stroke-width="1.1" fill="none"/>
<path d="M82.04 503.92V535.92M78.54 503.92H85.54M78.54 535.92H85.54" stroke="#555555" stroke-width="1.1" fill="none"/>
<path d="M84.61 506.20V536.20M81.11 506.20H88.11M81.11 536.20H88.11" stroke="#555555" stroke-width="1.1" fill="none"/>
<path d="M87.64 509.60V539.60M84.14 509.60H91.14M84.14 539.60H91.14" stroke="#555555" stroke-width="1.1" fill="none"/>
<path d="M92.73 514.70V544.70M89.23 514.70H96.23M89.23 544.70H96.23" stroke="#555555" stroke-width="1.1" fill="none"/>
<path d="M98.73 516.40V546.40M95.23 516.40H102.23M95.23 546.40H102.23" stroke="#555555" stroke-width="1.1" fill="none"/>
<path d="M109.25 522.35V552.35M105.75 522.35H112.75M105.75 552.35H112.75" stroke="#555555" stroke-width="1.1" fill="none"/>
<path d="M130.17 530.30V556.30M126.67 530.30H133.67M126.67 556.30H133.67" stroke="#555555" stroke-width="1.1" fill="none"/>
<path d="M185.63 553.67V579.67M182.13 553.67H189.13M182.13 579.67H189.13" stroke="#555555" stroke-width="1.1" fill="none"/>
<path d="M211.36 561.33V587.33M207.86 561.33H214.86M207.86 587.33H214.86" stroke="#555555" stroke-width="1.1" fill="none"/>
<path d="M270.81 592.20V620.20M267.31 592.20H274.31M267.31 620.20H274.31" stroke="#555555" stroke-width="1.1" fill="none"/>
<path d="M301.11 611.60V641.60M297.61 611.60H304.61M297.61 641.60H304.61" stroke="#555555" stroke-width="1.1" fill="none"/>
<path d="M342.85 638.60V665.60M339.35 638.60H346.35M339.35 665.60H346.35" stroke="#555555" stroke-width="1.1" fill="none"/>
<path d="M396.01 680.20V702.20M392.51 680.20H399.51M392.51 702.20H399.51" stroke="#555555" stroke-width="1.1" fill="none"/>
<path d="M470.91 744.02V756.02M467.41 744.02H474.41M467.41 756.02H474.41" stroke="#555555" stroke-width="1.1" fill="none"/>
<path d="M534.37 785.80V793.80M530.87 785.80H537.87M530.87 793.80H537.87" stroke="#555555" stroke-width="1.1" fill="none"/>
<rect x="75.71" y="514.18" width="9.8" height="9.8" fill="#fff" stroke="#000000" stroke-width="1.4"/>
<rect x="77.14" y="515.02" width="9.8" height="9.8" fill="#fff" stroke="#000000" stroke-width="1.4"/>
<rect x="79.71" y="516.30" width="9.8" height="9.8" fill="#fff" stroke="#000000" stroke-width="1.4"/>
<rect x="82.74" y="519.70" width="9.8" height="9.8" fill="#fff" stroke="#000000" stroke-width="1.4"/>
<rect x="87.83" y="524.80" width="9.8" height="9.8" fill="#fff" stroke="#000000" stroke-width="1.4"/>
<rect x="93.83" y="526.50" width="9.8" height="9.8" fill="#fff" stroke="#000000" stroke-width="1.4"/>
<rect x="104.35" y="532.45" width="9.8" height="9.8" fill="#fff" stroke="#000000" stroke-width="1.4"/>
<rect x="125.27" y="538.40" width="9.8" height="9.8" fill="#fff" stroke="#000000" stroke-width="1.4"/>
<rect x="180.73" y="561.77" width="9.8" height="9.8" fill="#fff" stroke="#000000" stroke-width="1.4"/>
<rect x="206.46" y="569.43" width="9.8" height="9.8" fill="#fff" stroke="#000000" stroke-width="1.4"/>
<rect x="265.91" y="601.30" width="9.8" height="9.8" fill="#fff" stroke="#000000" stroke-width="1.4"/>
<rect x="296.21" y="621.70" width="9.8" height="9.8" fill="#fff" stroke="#000000" stroke-width="1.4"/>
<rect x="337.95" y="647.20" width="9.8" height="9.8" fill="#fff" stroke="#000000" stroke-width="1.4"/>
<rect x="391.11" y="686.30" width="9.8" height="9.8" fill="#fff" stroke="#000000" stroke-width="1.4"/>
<rect x="466.01" y="745.12" width="9.8" height="9.8" fill="#fff" stroke="#000000" stroke-width="1.4"/>
<rect x="529.47" y="784.90" width="9.8" height="9.8" fill="#fff" stroke="#000000" stroke-width="1.4"/>
<path d="M78.61 813.65 L78.73 813.30 L78.85 812.95 L78.98 812.60 L79.10 812.25 L79.23 811.90 L79.35 811.55 L79.47 811.21 L79.60 810.86 L79.72 810.53 L79.85 810.19 L79.97 809.86 L80.09 809.53 L80.31 808.96 L80.53 808.40 L80.75 807.85 L80.97 807.32 L81.19 806.79 L81.41 806.28 L81.63 805.79 L81.85 805.30 L82.07 804.83 L82.28 804.37 L82.50 803.93 L82.72 803.49 L83.02 802.92 L83.32 802.36 L83.62 801.83 L83.92 801.31 L84.22 800.82 L84.52 800.34 L84.82 799.87 L85.12 799.42 L85.42 798.99 L85.72 798.56 L86.02 798.15 L86.32 797.75 L86.80 797.13 L87.28 796.53 L87.75 795.94 L88.23 795.37 L88.71 794.79 L89.18 794.22 L89.66 793.64 L90.14 793.06 L90.61 792.46 L91.09 791.84 L91.56 791.20 L92.04 790.54 L92.59 789.74 L93.14 788.90 L93.69 788.02 L94.23 787.12 L94.78 786.19 L95.33 785.23 L95.88 784.26 L96.42 783.27 L96.97 782.26 L97.52 781.25 L98.07 780.23 L98.62 779.20 L99.47 777.61 L100.32 776.02 L101.17 774.43 L102.03 772.85 L102.88 771.27 L103.73 769.69 L104.59 768.12 L105.44 766.55 L106.29 764.99 L107.14 763.44 L108.00 761.90 L108.85 760.36 L110.63 757.19 L112.40 754.06 L114.18 750.96 L115.96 747.89 L117.73 744.86 L119.51 741.86 L121.29 738.88 L123.07 735.93 L124.84 733.01 L126.62 730.11 L128.40 727.22 L130.17 724.36 L134.80 717.00 L139.42 709.75 L144.04 702.59 L148.66 695.53 L153.28 688.53 L157.90 681.61 L162.52 674.75 L167.14 667.93 L171.76 661.15 L176.39 654.39 L181.01 647.66 L185.63 640.93 L187.77 637.80 L189.92 634.69 L192.06 631.58 L194.20 628.48 L196.35 625.40 L198.49 622.35 L200.64 619.32 L202.78 616.32 L204.92 613.35 L207.07 610.43 L209.21 607.55 L211.36 604.72 L216.31 598.38 L221.26 592.33 L226.22 586.56 L231.17 581.09 L236.13 575.90 L241.08 571.01 L246.04 566.41 L250.99 562.10 L255.95 558.10 L260.90 554.39 L265.86 550.97 L270.81 547.86 L273.34 546.39 L275.86 545.00 L278.39 543.67 L280.91 542.39 L283.44 541.18 L285.96 540.01 L288.49 538.88 L291.01 537.79 L293.54 536.73 L296.06 535.69 L298.59 534.68 L301.11 533.67 L304.59 532.29 L308.07 530.95 L311.55 529.64 L315.02 528.38 L318.50 527.20 L321.98 526.09 L325.46 525.09 L328.93 524.19 L332.41 523.42 L335.89 522.79 L339.37 522.31 L342.85 522.00 L347.28 521.87 L351.71 522.03 L356.14 522.49 L360.57 523.23 L365.00 524.25 L369.43 525.55 L373.86 527.13 L378.29 528.99 L382.72 531.11 L387.15 533.51 L391.58 536.17 L396.01 539.09 L402.26 543.63 L408.50 548.64 L414.74 554.08 L420.98 559.91 L427.22 566.07 L433.46 572.53 L439.70 579.24 L445.94 586.16 L452.18 593.25 L458.42 600.46 L464.67 607.75 L470.91 615.08 L476.20 621.29 L481.48 627.50 L486.77 633.70 L492.06 639.90 L497.35 646.10 L502.64 652.29 L507.92 658.48 L513.21 664.67 L518.50 670.86 L523.79 677.04 L529.08 683.23 L534.37 689.41" fill="none" stroke="#000000" stroke-width="3" stroke-linejoin="round"/>
<path d="M78.61 811.65V815.65M75.11 811.65H82.11M75.11 815.65H82.11" stroke="#555555" stroke-width="1.1" fill="none"/>
<path d="M80.09 807.53V811.53M76.59 807.53H83.59M76.59 811.53H83.59" stroke="#555555" stroke-width="1.1" fill="none"/>
<path d="M82.72 801.49V805.49M79.22 801.49H86.22M79.22 805.49H86.22" stroke="#555555" stroke-width="1.1" fill="none"/>
<path d="M86.32 795.75V799.75M82.82 795.75H89.82M82.82 799.75H89.82" stroke="#555555" stroke-width="1.1" fill="none"/>
<path d="M92.04 788.54V792.54M88.54 788.54H95.54M88.54 792.54H95.54" stroke="#555555" stroke-width="1.1" fill="none"/>
<path d="M98.62 777.20V781.20M95.12 777.20H102.12M95.12 781.20H102.12" stroke="#555555" stroke-width="1.1" fill="none"/>
<path d="M108.85 758.36V762.36M105.35 758.36H112.35M105.35 762.36H112.35" stroke="#555555" stroke-width="1.1" fill="none"/>
<path d="M130.17 720.36V728.36M126.67 720.36H133.67M126.67 728.36H133.67" stroke="#555555" stroke-width="1.1" fill="none"/>
<path d="M185.63 630.93V650.93M182.13 630.93H189.13M182.13 650.93H189.13" stroke="#555555" stroke-width="1.1" fill="none"/>
<path d="M211.36 594.72V614.72M207.86 594.72H214.86M207.86 614.72H214.86" stroke="#555555" stroke-width="1.1" fill="none"/>
<path d="M270.81 532.86V562.86M267.31 532.86H274.31M267.31 562.86H274.31" stroke="#555555" stroke-width="1.1" fill="none"/>
<path d="M301.11 519.67V547.67M297.61 519.67H304.61M297.61 547.67H304.61" stroke="#555555" stroke-width="1.1" fill="none"/>
<path d="M342.85 506.00V538.00M339.35 506.00H346.35M339.35 538.00H346.35" stroke="#555555" stroke-width="1.1" fill="none"/>
<path d="M396.01 524.09V554.09M392.51 524.09H399.51M392.51 554.09H399.51" stroke="#555555" stroke-width="1.1" fill="none"/>
<path d="M470.91 603.58V626.58M467.41 603.58H474.41M467.41 626.58H474.41" stroke="#555555" stroke-width="1.1" fill="none"/>
<path d="M534.37 682.11V696.71M530.87 682.11H537.87M530.87 696.71H537.87" stroke="#555555" stroke-width="1.1" fill="none"/>
<rect x="73.36" y="808.40" width="10.5" height="10.5" fill="#000000" stroke="#000000" stroke-width="1.0"/>
<rect x="74.84" y="804.28" width="10.5" height="10.5" fill="#000000" stroke="#000000" stroke-width="1.0"/>
<rect x="77.47" y="798.24" width="10.5" height="10.5" fill="#000000" stroke="#000000" stroke-width="1.0"/>
<rect x="81.07" y="792.50" width="10.5" height="10.5" fill="#000000" stroke="#000000" stroke-width="1.0"/>
<rect x="86.79" y="785.29" width="10.5" height="10.5" fill="#000000" stroke="#000000" stroke-width="1.0"/>
<rect x="93.37" y="773.95" width="10.5" height="10.5" fill="#000000" stroke="#000000" stroke-width="1.0"/>
<rect x="103.60" y="755.11" width="10.5" height="10.5" fill="#000000" stroke="#000000" stroke-width="1.0"/>
<rect x="124.92" y="719.11" width="10.5" height="10.5" fill="#000000" stroke="#000000" stroke-width="1.0"/>
<rect x="180.38" y="635.68" width="10.5" height="10.5" fill="#000000" stroke="#000000" stroke-width="1.0"/>
<rect x="206.11" y="599.47" width="10.5" height="10.5" fill="#000000" stroke="#000000" stroke-width="1.0"/>
<rect x="265.56" y="542.61" width="10.5" height="10.5" fill="#000000" stroke="#000000" stroke-width="1.0"/>
<rect x="295.86" y="528.42" width="10.5" height="10.5" fill="#000000" stroke="#000000" stroke-width="1.0"/>
<rect x="337.60" y="516.75" width="10.5" height="10.5" fill="#000000" stroke="#000000" stroke-width="1.0"/>
<rect x="390.76" y="533.84" width="10.5" height="10.5" fill="#000000" stroke="#000000" stroke-width="1.0"/>
<rect x="465.66" y="609.83" width="10.5" height="10.5" fill="#000000" stroke="#000000" stroke-width="1.0"/>
<rect x="529.12" y="684.16" width="10.5" height="10.5" fill="#000000" stroke="#000000" stroke-width="1.0"/>
<path d="M74.32 829.25 L74.49 829.05 L74.67 828.85 L74.85 828.65 L75.02 828.45 L75.20 828.24 L75.38 828.04 L75.55 827.83 L75.73 827.62 L75.91 827.41 L76.08 827.19 L76.26 826.97 L76.43 826.75 L76.67 826.44 L76.91 826.13 L77.15 825.81 L77.39 825.49 L77.63 825.16 L77.86 824.84 L78.10 824.51 L78.34 824.19 L78.58 823.87 L78.82 823.55 L79.05 823.23 L79.29 822.92 L79.67 822.44 L80.05 821.98 L80.44 821.53 L80.82 821.09 L81.20 820.67 L81.58 820.26 L81.96 819.85 L82.34 819.46 L82.72 819.07 L83.10 818.68 L83.48 818.30 L83.87 817.92 L84.25 817.54 L84.63 817.16 L85.01 816.78 L85.39 816.40 L85.77 816.02 L86.15 815.65 L86.53 815.28 L86.92 814.92 L87.30 814.55 L87.68 814.20 L88.06 813.85 L88.44 813.50 L88.82 813.16 L89.20 812.82 L89.58 812.48 L89.96 812.14 L90.35 811.78 L90.73 811.41 L91.11 811.02 L91.49 810.61 L91.87 810.17 L92.25 809.70 L92.63 809.19 L93.01 808.64 L93.51 807.87 L94.00 807.03 L94.50 806.13 L95.00 805.18 L95.49 804.20 L95.99 803.18 L96.48 802.13 L96.98 801.08 L97.47 800.01 L97.97 798.95 L98.46 797.90 L98.96 796.87 L100.16 794.48 L101.36 792.24 L102.56 790.14 L103.76 788.16 L104.96 786.29 L106.16 784.51 L107.36 782.81 L108.56 781.19 L109.76 779.61 L110.96 778.08 L112.17 776.58 L113.37 775.08 L117.15 770.38 L120.93 765.68 L124.71 760.98 L128.50 756.30 L132.28 751.64 L136.06 747.02 L139.85 742.43 L143.63 737.89 L147.41 733.40 L151.19 728.98 L154.98 724.62 L158.76 720.35 L160.43 718.49 L162.09 716.65 L163.76 714.82 L165.43 713.01 L167.10 711.21 L168.76 709.43 L170.43 707.66 L172.10 705.90 L173.77 704.15 L175.43 702.41 L177.10 700.68 L178.77 698.97 L183.10 694.54 L187.44 690.18 L191.77 685.90 L196.11 681.69 L200.45 677.57 L204.78 673.54 L209.12 669.61 L213.45 665.78 L217.79 662.07 L222.12 658.48 L226.46 655.02 L230.79 651.68 L232.98 650.05 L235.18 648.47 L237.37 646.94 L239.56 645.48 L241.75 644.08 L243.94 642.78 L246.13 641.57 L248.33 640.46 L250.52 639.46 L252.71 638.59 L254.90 637.84 L257.09 637.24 L259.47 636.76 L261.86 636.44 L264.24 636.28 L266.62 636.26 L269.00 636.37 L271.38 636.59 L273.77 636.92 L276.15 637.33 L278.53 637.83 L280.91 638.39 L283.29 639.00 L285.68 639.66 L289.06 640.64 L292.44 641.68 L295.82 642.78 L299.21 643.96 L302.59 645.20 L305.97 646.52 L309.35 647.93 L312.74 649.41 L316.12 650.99 L319.50 652.66 L322.88 654.42 L326.27 656.29 L331.08 659.13 L335.89 662.16 L340.70 665.38 L345.51 668.77 L350.33 672.32 L355.14 676.01 L359.95 679.83 L364.76 683.77 L369.57 687.81 L374.38 691.94 L379.20 696.14 L384.01 700.40 L388.11 704.07 L392.20 707.77 L396.30 711.49 L400.40 715.24 L404.49 719.01 L408.59 722.80 L412.69 726.61 L416.79 730.43 L420.88 734.27 L424.98 738.11 L429.08 741.96 L433.17 745.81" fill="none" stroke="#ff0000" stroke-width="3" stroke-linejoin="round"/>
<path d="M74.32 827.25V831.25M70.82 827.25H77.82M70.82 831.25H77.82" stroke="#f05050" stroke-width="1.1" fill="none"/>
<path d="M76.43 824.75V828.75M72.93 824.75H79.93M72.93 828.75H79.93" stroke="#f05050" stroke-width="1.1" fill="none"/>
<path d="M79.29 820.92V824.92M75.79 820.92H82.79M75.79 824.92H82.79" stroke="#f05050" stroke-width="1.1" fill="none"/>
<path d="M83.87 815.92V819.92M80.37 815.92H87.37M80.37 819.92H87.37" stroke="#f05050" stroke-width="1.1" fill="none"/>
<path d="M88.44 811.50V815.50M84.94 811.50H91.94M84.94 815.50H91.94" stroke="#f05050" stroke-width="1.1" fill="none"/>
<path d="M93.01 806.64V810.64M89.51 806.64H96.51M89.51 810.64H96.51" stroke="#f05050" stroke-width="1.1" fill="none"/>
<path d="M98.96 794.87V798.87M95.46 794.87H102.46M95.46 798.87H102.46" stroke="#f05050" stroke-width="1.1" fill="none"/>
<path d="M113.37 773.08V777.08M109.87 773.08H116.87M109.87 777.08H116.87" stroke="#f05050" stroke-width="1.1" fill="none"/>
<path d="M158.76 715.35V725.35M155.26 715.35H162.26M155.26 725.35H162.26" stroke="#f05050" stroke-width="1.1" fill="none"/>
<path d="M178.77 692.97V704.97M175.27 692.97H182.27M175.27 704.97H182.27" stroke="#f05050" stroke-width="1.1" fill="none"/>
<path d="M230.79 638.68V664.68M227.29 638.68H234.29M227.29 664.68H234.29" stroke="#f05050" stroke-width="1.1" fill="none"/>
<path d="M257.09 621.44V653.04M253.59 621.44H260.59M253.59 653.04H260.59" stroke="#f05050" stroke-width="1.1" fill="none"/>
<path d="M285.68 621.66V657.66M282.18 621.66H289.18M282.18 657.66H289.18" stroke="#f05050" stroke-width="1.1" fill="none"/>
<path d="M326.27 639.59V672.99M322.77 639.59H329.77M322.77 672.99H329.77" stroke="#f05050" stroke-width="1.1" fill="none"/>
<path d="M384.01 687.40V713.40M380.51 687.40H387.51M380.51 713.40H387.51" stroke="#f05050" stroke-width="1.1" fill="none"/>
<path d="M433.17 737.41V754.21M429.67 737.41H436.67M429.67 754.21H436.67" stroke="#f05050" stroke-width="1.1" fill="none"/>
<path d="M74.32 822.35L81.07 833.85L67.57 833.85Z" fill="#ff0000" stroke="#ff0000" stroke-width="1.0" stroke-linejoin="miter"/>
<path d="M76.43 819.85L83.18 831.35L69.68 831.35Z" fill="#ff0000" stroke="#ff0000" stroke-width="1.0" stroke-linejoin="miter"/>
<path d="M79.29 816.02L86.04 827.52L72.54 827.52Z" fill="#ff0000" stroke="#ff0000" stroke-width="1.0" stroke-linejoin="miter"/>
<path d="M83.87 811.02L90.62 822.52L77.12 822.52Z" fill="#ff0000" stroke="#ff0000" stroke-width="1.0" stroke-linejoin="miter"/>
<path d="M88.44 806.60L95.19 818.10L81.69 818.10Z" fill="#ff0000" stroke="#ff0000" stroke-width="1.0" stroke-linejoin="miter"/>
<path d="M93.01 801.74L99.76 813.24L86.26 813.24Z" fill="#ff0000" stroke="#ff0000" stroke-width="1.0" stroke-linejoin="miter"/>
<path d="M98.96 789.97L105.71 801.47L92.21 801.47Z" fill="#ff0000" stroke="#ff0000" stroke-width="1.0" stroke-linejoin="miter"/>
<path d="M113.37 768.18L120.12 779.68L106.62 779.68Z" fill="#ff0000" stroke="#ff0000" stroke-width="1.0" stroke-linejoin="miter"/>
<path d="M158.76 713.45L165.51 724.95L152.01 724.95Z" fill="#ff0000" stroke="#ff0000" stroke-width="1.0" stroke-linejoin="miter"/>
<path d="M178.77 692.07L185.52 703.57L172.02 703.57Z" fill="#ff0000" stroke="#ff0000" stroke-width="1.0" stroke-linejoin="miter"/>
<path d="M230.79 644.78L237.54 656.28L224.04 656.28Z" fill="#ff0000" stroke="#ff0000" stroke-width="1.0" stroke-linejoin="miter"/>
<path d="M257.09 630.34L263.84 641.84L250.34 641.84Z" fill="#ff0000" stroke="#ff0000" stroke-width="1.0" stroke-linejoin="miter"/>
<path d="M285.68 632.76L292.43 644.26L278.93 644.26Z" fill="#ff0000" stroke="#ff0000" stroke-width="1.0" stroke-linejoin="miter"/>
<path d="M326.27 649.39L333.02 660.89L319.52 660.89Z" fill="#ff0000" stroke="#ff0000" stroke-width="1.0" stroke-linejoin="miter"/>
<path d="M384.01 693.50L390.76 705.00L377.26 705.00Z" fill="#ff0000" stroke="#ff0000" stroke-width="1.0" stroke-linejoin="miter"/>
<path d="M433.17 738.91L439.92 750.41L426.42 750.41Z" fill="#ff0000" stroke="#ff0000" stroke-width="1.0" stroke-linejoin="miter"/>
<path d="M74.32 828.96 L74.49 828.76 L74.67 828.56 L74.85 828.36 L75.02 828.16 L75.20 827.96 L75.38 827.75 L75.55 827.55 L75.73 827.34 L75.91 827.12 L76.08 826.90 L76.26 826.68 L76.43 826.46 L76.67 826.14 L76.91 825.82 L77.15 825.49 L77.39 825.15 L77.63 824.82 L77.86 824.48 L78.10 824.14 L78.34 823.80 L78.58 823.46 L78.82 823.13 L79.05 822.80 L79.29 822.48 L79.67 821.99 L80.05 821.51 L80.44 821.06 L80.82 820.62 L81.20 820.19 L81.58 819.78 L81.96 819.38 L82.34 818.99 L82.72 818.61 L83.10 818.23 L83.48 817.85 L83.87 817.48 L84.25 817.10 L84.63 816.73 L85.01 816.35 L85.39 815.98 L85.77 815.61 L86.15 815.23 L86.53 814.87 L86.92 814.50 L87.30 814.13 L87.68 813.77 L88.06 813.41 L88.44 813.06 L88.82 812.71 L89.20 812.36 L89.58 812.01 L89.96 811.65 L90.35 811.27 L90.73 810.89 L91.11 810.48 L91.49 810.06 L91.87 809.60 L92.25 809.12 L92.63 808.61 L93.01 808.06 L93.51 807.28 L94.00 806.44 L94.50 805.55 L95.00 804.61 L95.49 803.64 L95.99 802.63 L96.48 801.61 L96.98 800.57 L97.47 799.52 L97.97 798.48 L98.46 797.44 L98.96 796.43 L100.16 794.07 L101.36 791.84 L102.56 789.75 L103.76 787.76 L104.96 785.88 L106.16 784.09 L107.36 782.37 L108.56 780.72 L109.76 779.11 L110.96 777.55 L112.17 776.02 L113.37 774.49 L117.15 769.72 L120.93 764.96 L124.71 760.24 L128.50 755.55 L132.28 750.90 L136.06 746.29 L139.85 741.73 L143.63 737.23 L147.41 732.78 L151.19 728.40 L154.98 724.10 L158.76 719.86 L160.43 718.02 L162.09 716.20 L163.76 714.38 L165.43 712.58 L167.10 710.79 L168.76 709.00 L170.43 707.23 L172.10 705.45 L173.77 703.68 L175.43 701.92 L177.10 700.15 L178.77 698.38 L183.53 693.31 L188.30 688.24 L193.06 683.18 L197.82 678.14 L202.59 673.14 L207.35 668.19 L212.12 663.31 L216.88 658.51 L221.65 653.82 L226.41 649.24 L231.17 644.79 L235.94 640.48 L238.56 638.18 L241.18 635.92 L243.80 633.71 L246.42 631.54 L249.04 629.41 L251.66 627.31 L254.28 625.24 L256.90 623.20 L259.52 621.20 L262.14 619.21 L264.76 617.25 L267.38 615.31 L271.05 612.62 L274.72 609.98 L278.39 607.41 L282.06 604.94 L285.72 602.57 L289.39 600.33 L293.06 598.24 L296.73 596.31 L300.40 594.56 L304.07 593.02 L307.73 591.71 L311.40 590.63 L315.83 589.67 L320.26 589.05 L324.69 588.75 L329.13 588.71 L333.56 588.92 L337.99 589.33 L342.42 589.91 L346.85 590.63 L351.28 591.44 L355.71 592.32 L360.14 593.23 L364.57 594.13 L372.15 595.60 L379.72 597.05 L387.30 598.58 L394.87 600.29 L402.45 602.28 L410.02 604.64 L417.60 607.49 L425.17 610.91 L432.75 615.01 L440.32 619.89 L447.90 625.64 L455.47 632.38 L460.14 637.05 L464.81 642.09 L469.48 647.48 L474.15 653.18 L478.82 659.14 L483.48 665.35 L488.15 671.76 L492.82 678.34 L497.49 685.06 L502.16 691.88 L506.83 698.77 L511.50 705.69" fill="none" stroke="#0000ff" stroke-width="3" stroke-linejoin="round"/>
<path d="M74.32 826.96V830.96M70.82 826.96H77.82M70.82 830.96H77.82" stroke="#5050e0" stroke-width="1.1" fill="none"/>
<path d="M76.43 824.46V828.46M72.93 824.46H79.93M72.93 828.46H79.93" stroke="#5050e0" stroke-width="1.1" fill="none"/>
<path d="M79.29 820.48V824.48M75.79 820.48H82.79M75.79 824.48H82.79" stroke="#5050e0" stroke-width="1.1" fill="none"/>
<path d="M83.87 815.48V819.48M80.37 815.48H87.37M80.37 819.48H87.37" stroke="#5050e0" stroke-width="1.1" fill="none"/>
<path d="M88.44 811.06V815.06M84.94 811.06H91.94M84.94 815.06H91.94" stroke="#5050e0" stroke-width="1.1" fill="none"/>
<path d="M93.01 806.06V810.06M89.51 806.06H96.51M89.51 810.06H96.51" stroke="#5050e0" stroke-width="1.1" fill="none"/>
<path d="M98.96 794.43V798.43M95.46 794.43H102.46M95.46 798.43H102.46" stroke="#5050e0" stroke-width="1.1" fill="none"/>
<path d="M113.37 772.49V776.49M109.87 772.49H116.87M109.87 776.49H116.87" stroke="#5050e0" stroke-width="1.1" fill="none"/>
<path d="M158.76 711.46V728.26M155.26 711.46H162.26M155.26 728.26H162.26" stroke="#5050e0" stroke-width="1.1" fill="none"/>
<path d="M178.77 688.38V708.38M175.27 688.38H182.27M175.27 708.38H182.27" stroke="#5050e0" stroke-width="1.1" fill="none"/>
<path d="M235.94 626.48V654.48M232.44 626.48H239.44M232.44 654.48H239.44" stroke="#5050e0" stroke-width="1.1" fill="none"/>
<path d="M267.38 600.31V630.31M263.88 600.31H270.88M263.88 630.31H270.88" stroke="#5050e0" stroke-width="1.1" fill="none"/>
<path d="M311.40 573.03V608.23M307.90 573.03H314.90M307.90 608.23H314.90" stroke="#5050e0" stroke-width="1.1" fill="none"/>
<path d="M364.57 577.13V611.13M361.07 577.13H368.07M361.07 611.13H368.07" stroke="#5050e0" stroke-width="1.1" fill="none"/>
<path d="M455.47 617.58V647.18M451.97 617.58H458.97M451.97 647.18H458.97" stroke="#5050e0" stroke-width="1.1" fill="none"/>
<path d="M511.50 696.29V715.09M508.00 696.29H515.00M508.00 715.09H515.00" stroke="#5050e0" stroke-width="1.1" fill="none"/>
<circle cx="74.32" cy="828.96" r="6.2" fill="#0000ff" stroke="#0000ff" stroke-width="1.0"/>
<circle cx="76.43" cy="826.46" r="6.2" fill="#0000ff" stroke="#0000ff" stroke-width="1.0"/>
<circle cx="79.29" cy="822.48" r="6.2" fill="#0000ff" stroke="#0000ff" stroke-width="1.0"/>
<circle cx="83.87" cy="817.48" r="6.2" fill="#0000ff" stroke="#0000ff" stroke-width="1.0"/>
<circle cx="88.44" cy="813.06" r="6.2" fill="#0000ff" stroke="#0000ff" stroke-width="1.0"/>
<circle cx="93.01" cy="808.06" r="6.2" fill="#0000ff" stroke="#0000ff" stroke-width="1.0"/>
<circle cx="98.96" cy="796.43" r="6.2" fill="#0000ff" stroke="#0000ff" stroke-width="1.0"/>
<circle cx="113.37" cy="774.49" r="6.2" fill="#0000ff" stroke="#0000ff" stroke-width="1.0"/>
<circle cx="158.76" cy="719.86" r="6.2" fill="#0000ff" stroke="#0000ff" stroke-width="1.0"/>
<circle cx="178.77" cy="698.38" r="6.2" fill="#0000ff" stroke="#0000ff" stroke-width="1.0"/>
<circle cx="235.94" cy="640.48" r="6.2" fill="#0000ff" stroke="#0000ff" stroke-width="1.0"/>
<circle cx="267.38" cy="615.31" r="6.2" fill="#0000ff" stroke="#0000ff" stroke-width="1.0"/>
<circle cx="311.40" cy="590.63" r="6.2" fill="#0000ff" stroke="#0000ff" stroke-width="1.0"/>
<circle cx="364.57" cy="594.13" r="6.2" fill="#0000ff" stroke="#0000ff" stroke-width="1.0"/>
<circle cx="455.47" cy="632.38" r="6.2" fill="#0000ff" stroke="#0000ff" stroke-width="1.0"/>
<circle cx="511.50" cy="705.69" r="6.2" fill="#0000ff" stroke="#0000ff" stroke-width="1.0"/>
<path d="M75.86 827.04 L76.20 826.41 L76.53 825.78 L76.86 825.16 L77.20 824.55 L77.53 823.95 L77.86 823.37 L78.20 822.81 L78.53 822.27 L78.86 821.76 L79.20 821.28 L79.53 820.83 L79.86 820.42 L80.20 820.05 L80.53 819.71 L80.86 819.41 L81.20 819.13 L81.53 818.88 L81.87 818.65 L82.20 818.43 L82.53 818.23 L82.87 818.04 L83.20 817.85 L83.53 817.66 L83.87 817.48 L84.63 817.02 L85.39 816.53 L86.15 815.98 L86.92 815.39 L87.68 814.74 L88.44 814.03 L89.20 813.24 L89.96 812.38 L90.73 811.44 L91.49 810.41 L92.25 809.28 L93.01 808.06 L93.51 807.20 L94.00 806.31 L94.50 805.39 L95.00 804.43 L95.49 803.46 L95.99 802.46 L96.48 801.45 L96.98 800.44 L97.47 799.43 L97.97 798.41 L98.46 797.41 L98.96 796.43 L100.16 794.12 L101.36 791.92 L102.56 789.82 L103.76 787.82 L104.96 785.90 L106.16 784.07 L107.36 782.30 L108.56 780.59 L109.76 778.93 L110.96 777.32 L112.17 775.75 L113.37 774.20 L116.72 769.98 L120.07 765.91 L123.43 761.97 L126.78 758.17 L130.14 754.49 L133.49 750.93 L136.84 747.49 L140.20 744.17 L143.55 740.94 L146.91 737.82 L150.26 734.79 L153.61 731.84 L154.95 730.69 L156.28 729.56 L157.62 728.43 L158.95 727.32 L160.28 726.21 L161.62 725.11 L162.95 724.01 L164.29 722.92 L165.62 721.84 L166.95 720.75 L168.29 719.67 L169.62 718.59 L173.38 715.53 L177.15 712.48 L180.91 709.47 L184.68 706.52 L188.44 703.65 L192.20 700.89 L195.97 698.25 L199.73 695.77 L203.49 693.46 L207.26 691.34 L211.02 689.45 L214.79 687.79 L216.48 687.13 L218.17 686.53 L219.86 685.97 L221.55 685.45 L223.24 684.98 L224.93 684.55 L226.62 684.16 L228.32 683.80 L230.01 683.47 L231.70 683.17 L233.39 682.89 L235.08 682.64 L237.11 682.37 L239.13 682.14 L241.16 681.96 L243.18 681.85 L245.20 681.82 L247.23 681.88 L249.25 682.04 L251.28 682.32 L253.30 682.73 L255.33 683.28 L257.35 683.98 L259.38 684.85 L261.57 685.98 L263.76 687.31 L265.95 688.81 L268.14 690.47 L270.34 692.26 L272.53 694.18 L274.72 696.20 L276.91 698.31 L279.10 700.49 L281.29 702.72 L283.48 704.99 L285.68 707.27 L289.06 710.80 L292.44 714.32 L295.82 717.83 L299.21 721.33 L302.59 724.81 L305.97 728.27 L309.35 731.71 L312.74 735.11 L316.12 738.48 L319.50 741.80 L322.88 745.09 L326.27 748.32 L329.27 751.15 L332.27 753.94 L335.27 756.69 L338.27 759.42 L341.27 762.11 L344.28 764.78 L347.28 767.44 L350.28 770.07 L353.28 772.69 L356.28 775.30 L359.28 777.90 L362.28 780.50" fill="none" stroke="#ff00ff" stroke-width="3" stroke-linejoin="round"/>
<path d="M75.86 825.04V829.04M72.36 825.04H79.36M72.36 829.04H79.36" stroke="#e050e0" stroke-width="1.1" fill="none"/>
<path d="M79.86 818.42V822.42M76.36 818.42H83.36M76.36 822.42H83.36" stroke="#e050e0" stroke-width="1.1" fill="none"/>
<path d="M83.87 815.48V819.48M80.37 815.48H87.37M80.37 819.48H87.37" stroke="#e050e0" stroke-width="1.1" fill="none"/>
<path d="M93.01 806.06V810.06M89.51 806.06H96.51M89.51 810.06H96.51" stroke="#e050e0" stroke-width="1.1" fill="none"/>
<path d="M98.96 794.43V798.43M95.46 794.43H102.46M95.46 798.43H102.46" stroke="#e050e0" stroke-width="1.1" fill="none"/>
<path d="M113.37 772.20V776.20M109.87 772.20H116.87M109.87 776.20H116.87" stroke="#e050e0" stroke-width="1.1" fill="none"/>
<path d="M153.61 727.84V735.84M150.11 727.84H157.11M150.11 735.84H157.11" stroke="#e050e0" stroke-width="1.1" fill="none"/>
<path d="M169.62 713.59V723.59M166.12 713.59H173.12M166.12 723.59H173.12" stroke="#e050e0" stroke-width="1.1" fill="none"/>
<path d="M214.79 679.39V696.19M211.29 679.39H218.29M211.29 696.19H218.29" stroke="#e050e0" stroke-width="1.1" fill="none"/>
<path d="M235.08 672.64V692.64M231.58 672.64H238.58M231.58 692.64H238.58" stroke="#e050e0" stroke-width="1.1" fill="none"/>
<path d="M259.38 677.35V692.35M255.88 677.35H262.88M255.88 692.35H262.88" stroke="#e050e0" stroke-width="1.1" fill="none"/>
<path d="M285.68 698.27V716.27M282.18 698.27H289.18M282.18 716.27H289.18" stroke="#e050e0" stroke-width="1.1" fill="none"/>
<path d="M326.27 742.32V754.32M322.77 742.32H329.77M322.77 754.32H329.77" stroke="#e050e0" stroke-width="1.1" fill="none"/>
<path d="M362.28 776.50V784.50M358.78 776.50H365.78M358.78 784.50H365.78" stroke="#e050e0" stroke-width="1.1" fill="none"/>
<path d="M68.96 827.04L80.46 820.54L80.46 833.54Z" fill="#ff00ff" stroke="#ff00ff" stroke-width="1.0"/>
<path d="M72.96 820.42L84.46 813.92L84.46 826.92Z" fill="#ff00ff" stroke="#ff00ff" stroke-width="1.0"/>
<path d="M76.97 817.48L88.47 810.98L88.47 823.98Z" fill="#ff00ff" stroke="#ff00ff" stroke-width="1.0"/>
<path d="M86.11 808.06L97.61 801.56L97.61 814.56Z" fill="#ff00ff" stroke="#ff00ff" stroke-width="1.0"/>
<path d="M92.06 796.43L103.56 789.93L103.56 802.93Z" fill="#ff00ff" stroke="#ff00ff" stroke-width="1.0"/>
<path d="M106.47 774.20L117.97 767.70L117.97 780.70Z" fill="#ff00ff" stroke="#ff00ff" stroke-width="1.0"/>
<path d="M146.71 731.84L158.21 725.34L158.21 738.34Z" fill="#ff00ff" stroke="#ff00ff" stroke-width="1.0"/>
<path d="M162.72 718.59L174.22 712.09L174.22 725.09Z" fill="#ff00ff" stroke="#ff00ff" stroke-width="1.0"/>
<path d="M207.89 687.79L219.39 681.29L219.39 694.29Z" fill="#ff00ff" stroke="#ff00ff" stroke-width="1.0"/>
<path d="M228.18 682.64L239.68 676.14L239.68 689.14Z" fill="#ff00ff" stroke="#ff00ff" stroke-width="1.0"/>
<path d="M252.48 684.85L263.98 678.35L263.98 691.35Z" fill="#ff00ff" stroke="#ff00ff" stroke-width="1.0"/>
<path d="M278.78 707.27L290.28 700.77L290.28 713.77Z" fill="#ff00ff" stroke="#ff00ff" stroke-width="1.0"/>
<path d="M319.37 748.32L330.87 741.82L330.87 754.82Z" fill="#ff00ff" stroke="#ff00ff" stroke-width="1.0"/>
<path d="M355.38 780.50L366.88 774.00L366.88 787.00Z" fill="#ff00ff" stroke="#ff00ff" stroke-width="1.0"/>
<rect x="64.8" y="460" width="474.7" height="382.5" fill="none" stroke="#000" stroke-width="2"/>
<path d="M64.8 842.50H71.8" stroke="#000" stroke-width="2"/>
<text x="56.4" y="849.30" text-anchor="end" font-size="20" font-family="Liberation Serif, serif">0.0</text>
<path d="M64.8 800.00H71.8" stroke="#000" stroke-width="2"/>
<text x="56.4" y="806.80" text-anchor="end" font-size="20" font-family="Liberation Serif, serif">0.1</text>
<path d="M64.8 757.50H71.8" stroke="#000" stroke-width="2"/>
<text x="56.4" y="764.30" text-anchor="end" font-size="20" font-family="Liberation Serif, serif">0.2</text>
<path d="M64.8 715.00H71.8" stroke="#000" stroke-width="2"/>
<text x="56.4" y="721.80" text-anchor="end" font-size="20" font-family="Liberation Serif, serif">0.3</text>
<path d="M64.8 672.50H71.8" stroke="#000" stroke-width="2"/>
<text x="56.4" y="679.30" text-anchor="end" font-size="20" font-family="Liberation Serif, serif">0.4</text>
<path d="M64.8 630.00H71.8" stroke="#000" stroke-width="2"/>
<text x="56.4" y="636.80" text-anchor="end" font-size="20" font-family="Liberation Serif, serif">0.5</text>
<path d="M64.8 587.50H71.8" stroke="#000" stroke-width="2"/>
<text x="56.4" y="594.30" text-anchor="end" font-size="20" font-family="Liberation Serif, serif">0.6</text>
<path d="M64.8 545.00H71.8" stroke="#000" stroke-width="2"/>
<text x="56.4" y="551.80" text-anchor="end" font-size="20" font-family="Liberation Serif, serif">0.7</text>
<path d="M64.8 502.50H71.8" stroke="#000" stroke-width="2"/>
<text x="56.4" y="509.30" text-anchor="end" font-size="20" font-family="Liberation Serif, serif">0.8</text>
<path d="M64.8 460.00H71.8" stroke="#000" stroke-width="2"/>
<text x="56.4" y="466.80" text-anchor="end" font-size="20" font-family="Liberation Serif, serif">0.9</text>
<path d="M539.5 842.50H532.5" stroke="#000" stroke-width="2"/>
<text x="548" y="848.90" font-size="20" font-family="Liberation Serif, serif">0.0</text>
<path d="M539.5 768.90H532.5" stroke="#000" stroke-width="2"/>
<text x="548" y="775.30" font-size="20" font-family="Liberation Serif, serif">0.5</text>
<path d="M539.5 695.30H532.5" stroke="#000" stroke-width="2"/>
<text x="548" y="701.70" font-size="20" font-family="Liberation Serif, serif">1.0</text>
<path d="M539.5 621.70H532.5" stroke="#000" stroke-width="2"/>
<text x="548" y="628.10" font-size="20" font-family="Liberation Serif, serif">1.5</text>
<path d="M539.5 548.10H532.5" stroke="#000" stroke-width="2"/>
<text x="548" y="554.50" font-size="20" font-family="Liberation Serif, serif">2.0</text>
<path d="M539.5 474.50H532.5" stroke="#000" stroke-width="2"/>
<text x="548" y="480.90" font-size="20" font-family="Liberation Serif, serif">2.5</text>
<path d="M65.00 842.5V835.5" stroke="#000" stroke-width="2"/>
<text x="65.00" y="866.5" text-anchor="middle" font-size="20" font-family="Liberation Serif, serif">0</text>
<path d="M122.17 842.5V835.5" stroke="#000" stroke-width="2"/>
<text x="122.17" y="866.5" text-anchor="middle" font-size="20" font-family="Liberation Serif, serif">1</text>
<path d="M179.34 842.5V835.5" stroke="#000" stroke-width="2"/>
<text x="179.34" y="866.5" text-anchor="middle" font-size="20" font-family="Liberation Serif, serif">2</text>
<path d="M236.51 842.5V835.5" stroke="#000" stroke-width="2"/>
<text x="236.51" y="866.5" text-anchor="middle" font-size="20" font-family="Liberation Serif, serif">3</text>
<path d="M293.68 842.5V835.5" stroke="#000" stroke-width="2"/>
<text x="293.68" y="866.5" text-anchor="middle" font-size="20" font-family="Liberation Serif, serif">4</text>
<path d="M350.85 842.5V835.5" stroke="#000" stroke-width="2"/>
<text x="350.85" y="866.5" text-anchor="middle" font-size="20" font-family="Liberation Serif, serif">5</text>
<path d="M408.02 842.5V835.5" stroke="#000" stroke-width="2"/>
<text x="408.02" y="866.5" text-anchor="middle" font-size="20" font-family="Liberation Serif, serif">6</text>
<path d="M465.19 842.5V835.5" stroke="#000" stroke-width="2"/>
<text x="465.19" y="866.5" text-anchor="middle" font-size="20" font-family="Liberation Serif, serif">7</text>
<path d="M522.36 842.5V835.5" stroke="#000" stroke-width="2"/>
<text x="522.36" y="866.5" text-anchor="middle" font-size="20" font-family="Liberation Serif, serif">8</text>
<text x="220" y="890" font-size="20" font-family="Liberation Serif, serif">Current density (A/m<tspan font-size="13" dy="-8">3</tspan><tspan dy="8">)</tspan></text>
<text transform="translate(21.8,652) rotate(-90)" text-anchor="middle" font-size="20.5" font-family="Liberation Serif, serif">Voltage (V)</text>
<text transform="translate(591.6,648) rotate(-90)" text-anchor="middle" font-size="20" font-family="Liberation Serif, serif">Power density (W/m<tspan font-size="12" dy="-7">3</tspan><tspan dy="7">)</tspan></text>
<text x="85.3" y="479.5" font-size="18.5" font-family="Liberation Serif, serif">Voltage:</text>
<text x="85" y="500.6" font-size="18.5" font-family="Liberation Serif, serif">Power:</text>
<path d="M150.6 471.8H193" stroke="#ff0000" stroke-width="3"/>
<path d="M171.80 464.60L178.80 476.60L164.80 476.60Z" fill="#fff" stroke="#ff0000" stroke-width="1.4" stroke-linejoin="miter"/>
<text x="196.3" y="479.5" font-size="18.5" font-family="Liberation Serif, serif">100Ω</text>
<path d="M245.5 471.8H286.9" stroke="#0000ff" stroke-width="3"/>
<circle cx="266.20" cy="471.80" r="5.5" fill="#fff" stroke="#0000ff" stroke-width="1.4"/>
<text x="291" y="479.5" font-size="18.5" font-family="Liberation Serif, serif">200Ω</text>
<path d="M339 471.8H380.8" stroke="#ff00ff" stroke-width="3"/>
<path d="M353.00 471.80L364.50 465.05L364.50 478.55Z" fill="#fff" stroke="#ff00ff" stroke-width="1.4"/>
<text x="385.1" y="479.5" font-size="18.5" font-family="Liberation Serif, serif">500Ω</text>
<path d="M434.3 471.8H474.9" stroke="#000000" stroke-width="3"/>
<rect x="449.70" y="466.90" width="9.8" height="9.8" fill="#fff" stroke="#000000" stroke-width="1.4"/>
<text x="478.5" y="479.5" font-size="18.5" font-family="Liberation Serif, serif">1000Ω</text>
<path d="M148.4 494.2H190.9" stroke="#ff0000" stroke-width="3"/>
<path d="M169.65 487.30L176.40 498.80L162.90 498.80Z" fill="#ff0000" stroke="#ff0000" stroke-width="1.0" stroke-linejoin="miter"/>
<text x="194.5" y="500.6" font-size="18.5" font-family="Liberation Serif, serif">100Ω</text>
<path d="M242.9 494.2H285.2" stroke="#0000ff" stroke-width="3"/>
<circle cx="264.05" cy="494.20" r="6.2" fill="#0000ff" stroke="#0000ff" stroke-width="1.0"/>
<text x="288" y="500.6" font-size="18.5" font-family="Liberation Serif, serif">200Ω</text>
<path d="M337.3 494.2H379" stroke="#ff00ff" stroke-width="3"/>
<path d="M351.25 494.20L362.75 487.70L362.75 500.70Z" fill="#ff00ff" stroke="#ff00ff" stroke-width="1.0"/>
<text x="382" y="500.6" font-size="18.5" font-family="Liberation Serif, serif">500Ω</text>
<path d="M431.3 494.2H473.5" stroke="#000000" stroke-width="3"/>
<rect x="447.15" y="488.95" width="10.5" height="10.5" fill="#000000" stroke="#000000" stroke-width="1.0"/>
<text x="477" y="500.6" font-size="18.5" font-family="Liberation Serif, serif">1000Ω</text>
</svg></body></html>
